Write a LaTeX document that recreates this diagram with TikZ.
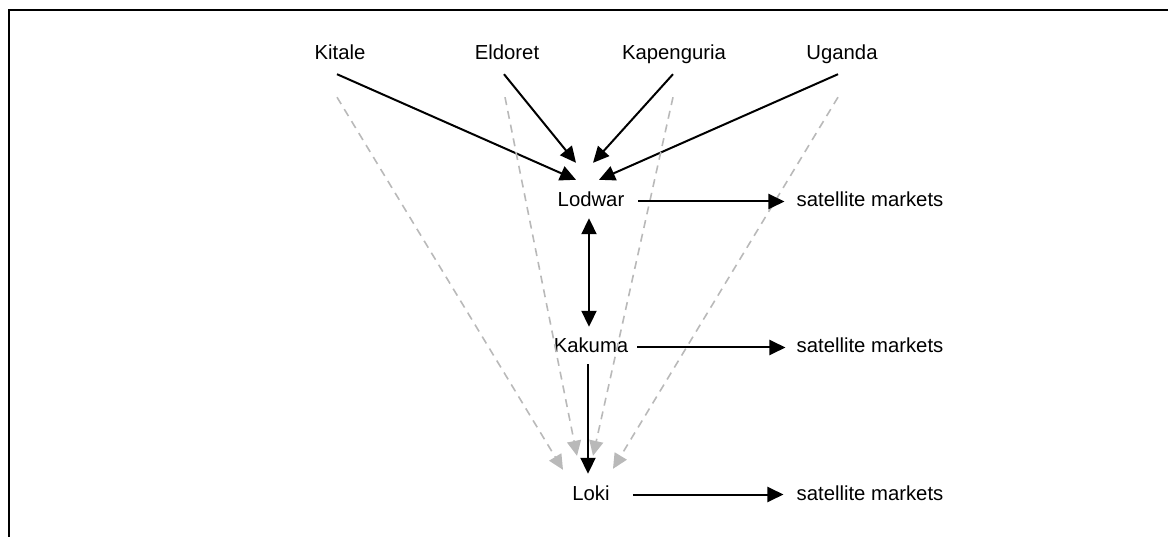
\documentclass[tikz,border=0pt]{standalone}
\usepackage{fontspec}
\setmainfont{Liberation Sans}
\usetikzlibrary{arrows.meta}
\definecolor{fade}{RGB}{185,185,185}
\begin{document}
\begin{tikzpicture}[x=1pt,y=-1pt,
  place/.style={inner sep=0pt, text height=15pt, text depth=4pt, anchor=base,
                font=\fontsize{20.3}{24}\selectfont},
  link/.style={line width=2pt, -{Triangle[length=16pt,width=15pt]}},
  both/.style={line width=2pt, {Triangle[length=16pt,width=15pt]}-{Triangle[length=16pt,width=15pt]}},
  feed/.style={line width=1.6pt, draw=fade, dash pattern=on 8pt off 6pt,
               -{Triangle[length=15pt,width=14pt,fill=fade]}},
  frame/.style={line width=2pt}]
\useasboundingbox (0,0) rectangle (1168,537);

% open frame: top and left edges only
\draw[frame] (1170,10) -- (9,10) -- (9,540);

% supply towns
\node[place] (kitale) at (340,60) {Kitale};
\node[place] (eldoret) at (507,60) {Eldoret};
\node[place] (kapenguria) at (674,60) {Kapenguria};
\node[place] (uganda) at (842,60) {Uganda};

% market chain
\node[place] (lodwar) at (591,207) {Lodwar};
\node[place] (kakuma) at (591,353) {Kakuma};
\node[place] (loki) at (591,500) {Loki};

% satellite markets
\node[place] (sat1) at (870,207) {satellite markets};
\node[place] (sat2) at (870,353) {satellite markets};
\node[place] (sat3) at (870,500) {satellite markets};

% direct supply to Lodwar
\draw[link] ([xshift=-3pt,yshift=-10pt]kitale.south) -- ([xshift=-15pt,yshift=12pt]lodwar.north);
\draw[link] ([xshift=-3pt,yshift=-10pt]eldoret.south) -- ([xshift=-15pt,yshift=29pt]lodwar.north);
\draw[link] ([xshift=-1pt,yshift=-10pt]kapenguria.south) -- ([xshift=2pt,yshift=29pt]lodwar.north);
\draw[link] ([xshift=-4pt,yshift=-10pt]uganda.south) -- ([xshift=8pt,yshift=12pt]lodwar.north);

% supply routes to Loki (dashed, grey)
\draw[feed] ([xshift=-3pt,yshift=-33pt]kitale.south) -- ([xshift=-28pt,yshift=15pt]loki.north);
\draw[feed] ([xshift=-2pt,yshift=-33pt]eldoret.south) -- ([xshift=-14pt,yshift=29pt]loki.north);
\draw[feed] ([xshift=-1pt,yshift=-33pt]kapenguria.south) -- ([xshift=2pt,yshift=29pt]loki.north);
\draw[feed] ([xshift=-4pt,yshift=-33pt]uganda.south) -- ([xshift=22pt,yshift=16pt]loki.north);

% links between the markets
\draw[both, shorten <=7pt, shorten >=11pt] ([xshift=-2pt]lodwar.south) -- ([xshift=-2pt]kakuma.north);
\draw[link, shorten <=7pt, shorten >=11pt] ([xshift=-3pt]kakuma.south) -- ([xshift=-3pt]loki.north);

% onward to satellite markets
\draw[link, shorten <=14pt, shorten >=12pt] (lodwar.east) -- (sat1.west |- lodwar.east);
\draw[link, shorten <=9pt, shorten >=11pt] (kakuma.east) -- (sat2.west |- kakuma.east);
\draw[link, shorten <=23pt, shorten >=13pt] (loki.east) -- (sat3.west |- loki.east);
\end{tikzpicture}
\end{document}
